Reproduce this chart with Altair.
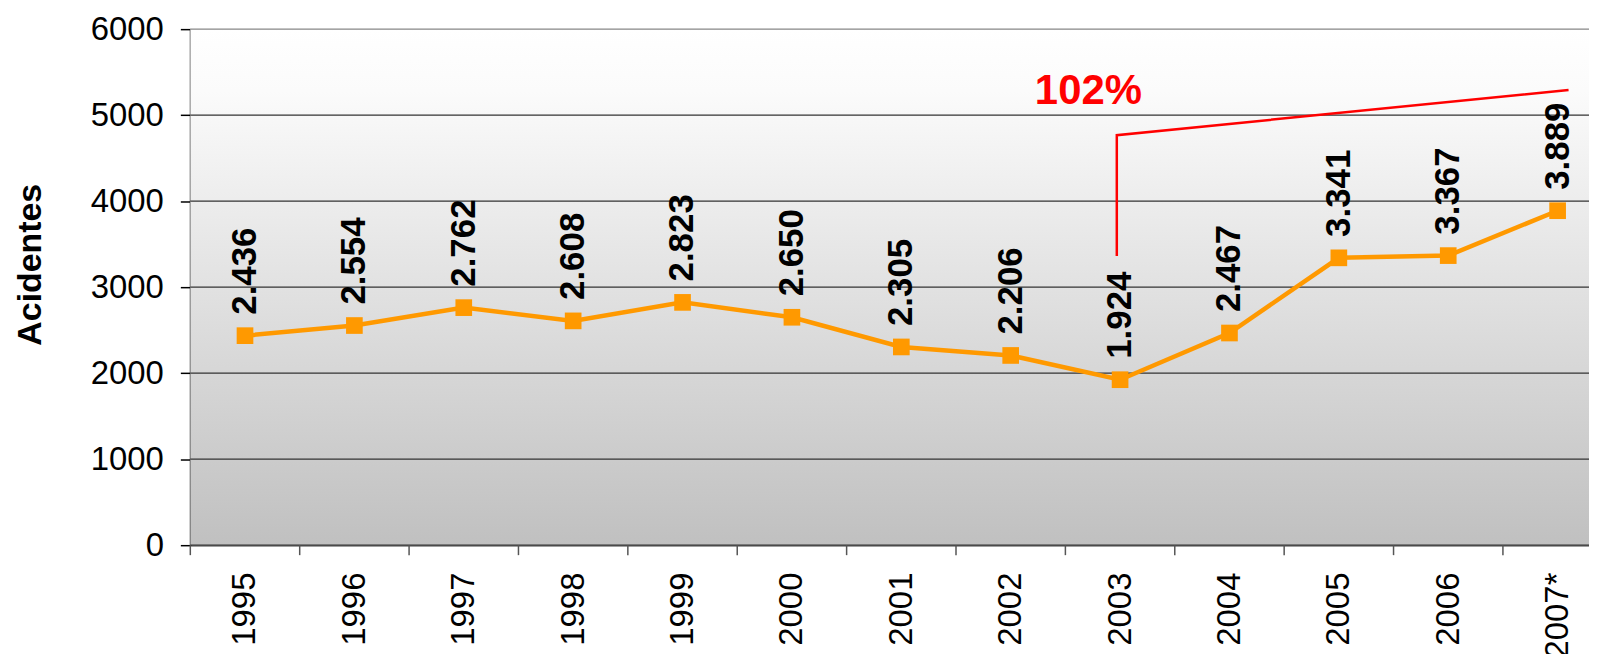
import json
import altair as alt
import pandas as pd

years = ["1995", "1996", "1997", "1998", "1999", "2000", "2001",
         "2002", "2003", "2004", "2005", "2006", "2007*"]
values = [2436, 2554, 2762, 2608, 2823, 2650, 2305, 2206, 1924, 2467, 3341, 3367, 3889]
value_labels = ["2.436", "2.554", "2.762", "2.608", "2.823", "2.650", "2.305",
                "2.206", "1.924", "2.467", "3.341", "3.367", "3.889"]
y_ticks = [0, 1000, 2000, 3000, 4000, 5000, 6000]

# growth annotation (bracket from 2003 to 2007*)
bracket_x = [7.97, 7.97, 12.1]
bracket_y = [3361, 4767, 5293]
note_text = ["102%"]
note_x = [7.71]
note_y = [5134]

W, H = 1404, 518
FONT = "Liberation Sans"

df = pd.DataFrame({"i": list(range(len(years))), "year": years,
                   "value": values, "label": value_labels})
df_b = pd.DataFrame({"bx": bracket_x, "by": bracket_y, "k": list(range(len(bracket_x)))})
df_n = pd.DataFrame({"nx": note_x, "ny": note_y, "t": note_text})
df_g = pd.DataFrame({"g": y_ticks})
df_bg = pd.DataFrame({"z": [0]})

x_scale = alt.Scale(domain=[-0.5, -0.5 + W / 109.8], nice=False, zero=False)
y_scale = alt.Scale(domain=[0, 6000], nice=False, zero=True)

x_axis = alt.Axis(
    values=list(range(len(years))),
    labelExpr=f"{json.dumps(years)}[datum.value]",
    labelAngle=-90, labelFont=FONT, labelFontSize=33, labelColor="black",
    labelPadding=27, ticks=False, grid=False, title=None,
    domainColor="#808080", domainWidth=2, labelOverlap=False, labelFlush=False,
)
y_axis = alt.Axis(
    values=y_ticks, format="d", labelFont=FONT, labelFontSize=33, labelColor="black",
    labelPadding=17, tickSize=10, tickColor="black", tickWidth=1.5,
    domainColor="black", domainWidth=2, grid=False,
    title="Acidentes", titleFont=FONT, titleFontSize=34, titleFontWeight="bold",
    titleColor="black", titleX=-160, titleY=236, titleAngle=270,
    titleAlign="center", titleBaseline="middle",
)


def X(field):
    return alt.X(field, scale=x_scale, axis=x_axis)


def Y(field):
    return alt.Y(field, scale=y_scale, axis=y_axis)


bg = alt.Chart(df_bg).mark_rect(
    color=alt.LinearGradient(
        gradient="linear", x1=0, y1=0, x2=0, y2=1,
        stops=[alt.GradientStop(offset=0, color="#FFFFFF"),
               alt.GradientStop(offset=0.12, color="#FBFBFB"),
               alt.GradientStop(offset=1, color="#C0C0C0")],
    )
).encode(x=alt.value(0), x2=alt.value(W), y=alt.value(0), y2=alt.value(H))

grid = alt.Chart(df_g).mark_rule(strokeWidth=1.2).encode(
    y=Y("g:Q"),
    color=alt.condition("datum.g == 6000", alt.value("#888888"), alt.value("#333333")),
)

base = alt.Chart(df)

line = base.mark_line(color="#FF9900", strokeWidth=4.5).encode(x=X("i:Q"), y=Y("value:Q"))
pts = base.mark_point(shape="square", filled=True, size=280, color="#FF9900", opacity=1).encode(
    x=X("i:Q"), y=Y("value:Q"))
txt = base.mark_text(angle=270, align="left", baseline="middle", dx=21, font=FONT,
                     fontSize=35, fontWeight="bold", color="black").encode(
    x=X("i:Q"), y=Y("value:Q"), text="label:N")
xticks = base.transform_calculate(b="datum.i - 0.5").mark_rule(color="#555555", strokeWidth=1.5).encode(
    x=X("b:Q"), y=alt.value(H), y2=alt.value(H + 10))
bracket = alt.Chart(df_b).mark_line(color="#FF0000", strokeWidth=2.5).encode(
    x=X("bx:Q"), y=Y("by:Q"), order="k:O")
note = alt.Chart(df_n).mark_text(font=FONT, fontSize=42, fontWeight="bold", color="#FF0000",
                                 align="center", baseline="alphabetic").encode(
    x=X("nx:Q"), y=Y("ny:Q"), text="t:N")

chart = alt.layer(bg, grid, line, pts, txt, xticks, bracket, note).properties(
    width=W, height=H,
    autosize=alt.AutoSizeParams(type="none"),
    padding={"left": 183, "top": 20, "right": 0, "bottom": 108},
).configure_view(stroke=None).configure(background="white")

chart.save("out.html", embed_options={"renderer": "svg", "actions": False})
